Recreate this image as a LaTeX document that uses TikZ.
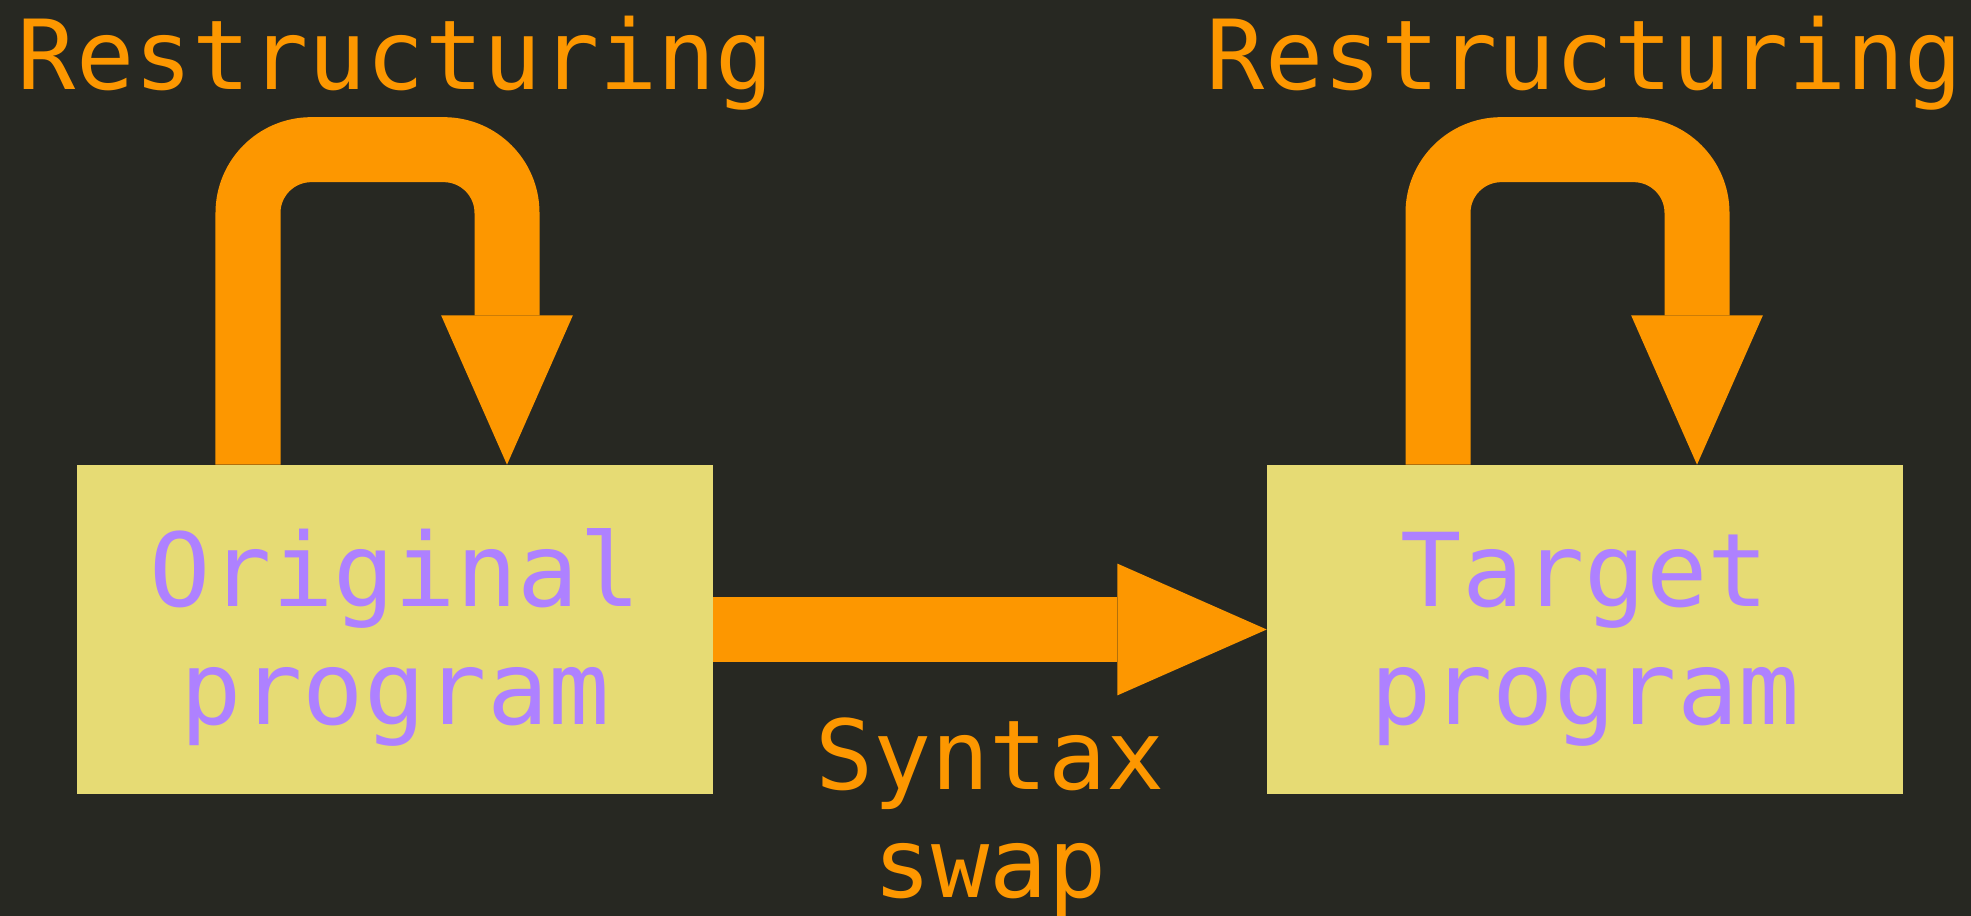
\documentclass[tikz,border=0pt]{standalone}
\usepackage{fontspec}
\setmonofont{DejaVu Sans Mono}
\usetikzlibrary{arrows.meta, positioning, calc}
\definecolor{bgdark}{HTML}{272822}
\definecolor{arrorange}{HTML}{FD9700}
\definecolor{boxyellow}{HTML}{E6DB74}
\definecolor{txtpurple}{HTML}{AE81FF}
\tikzset{
	x=0.02cm, y=0.02cm, % one unit is one pixel of the target
	>={Triangle[length=85pt, width=75pt, line width=0pt]}, % big flat arrow heads
	flow/.style={->, draw=arrorange, line width=37pt}, % thick orange arrows
	loopflow/.style={flow, rounded corners=36pt}, % the self loops above the boxes
	prog/.style={fill=boxyellow, text=txtpurple, minimum width=12.72cm, minimum height=6.58cm, inner sep=0pt, align=center, text height=121pt, text depth=13pt, font=\ttfamily\fontsize{58}{67}\selectfont}, % program boxes
	lbl/.style={text=arrorange, align=center, font=\ttfamily\fontsize{55}{61.8}\selectfont}, % orange labels
}
\begin{document}
\begin{tikzpicture}
	\useasboundingbox (0,0) rectangle (1971,916);
	\fill[bgdark] (0,0) rectangle (1971,916);
	\node[prog] (orig) at (395,286.5) {Original\\program};
	\node[prog] (targ) at (1585,286.5) {Target\\program};
	
	\draw[flow] (orig) -- (targ);
	\node[lbl, anchor=base] (swap) at (990,18) {Syntax\\swap};
	%
	\draw[loopflow] ($(orig.north)+(-147,0)$) -- ++(0,315) -- ++(259,0) -- ($(orig.north)+(112,0)$);
	\node[lbl, anchor=base] (restr1) at ($(orig.north)+(1,375)$) {Restructuring};
	%
	\draw[loopflow] ($(targ.north)+(-147,0)$) -- ++(0,315) -- ++(259,0) -- ($(targ.north)+(112,0)$);
	\node[lbl, anchor=base] (restr2) at ($(targ.north)+(0,375)$) {Restructuring};
\end{tikzpicture}
\end{document}
